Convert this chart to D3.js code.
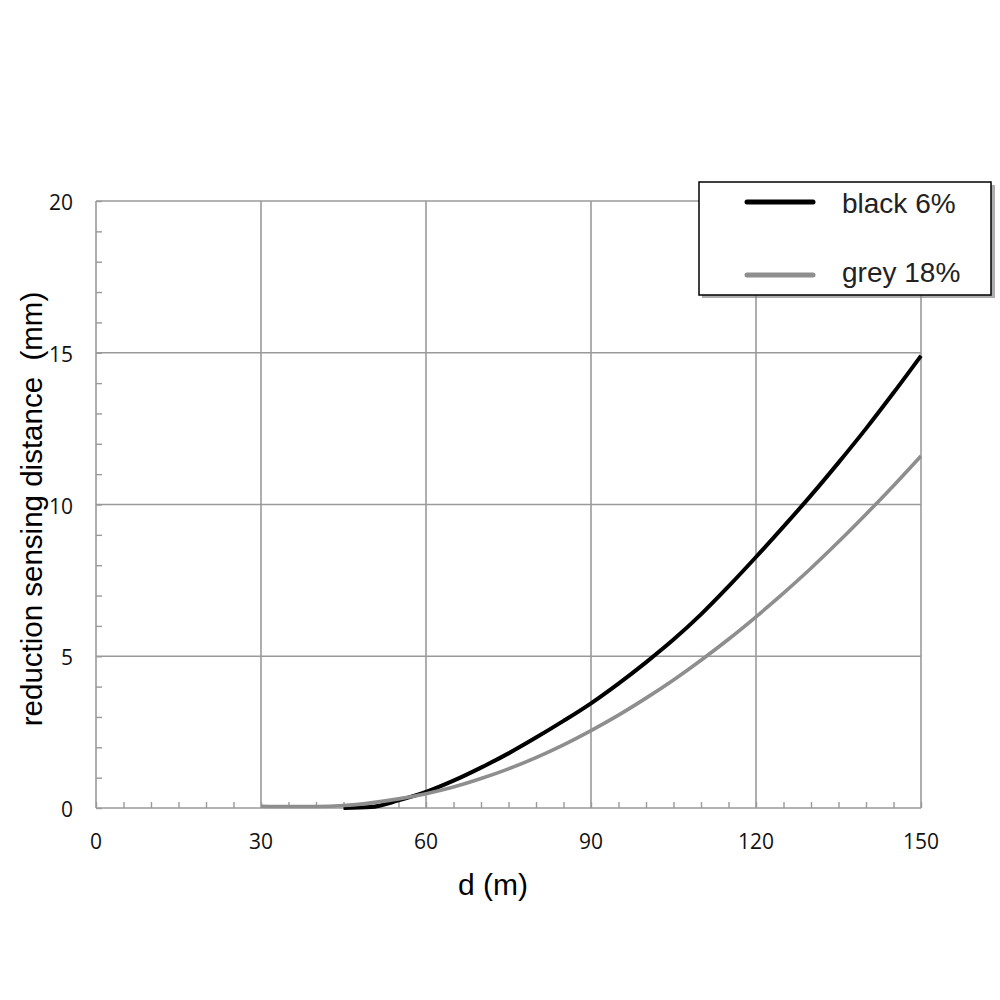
<!DOCTYPE html>
<html lang="en">
<head>
<meta charset="utf-8">
<title>reduction sensing distance</title>
<script src="https://cdn.jsdelivr.net/npm/d3@7"></script>
<style>
  body { margin: 0; background: #fff; }
  svg { display: block; }
</style>
</head>
<body>
<script>
// values (null = no curve drawn there)
var distances = [30, 35, 40, 45, 50, 55, 60, 65, 70, 75, 80, 85, 90, 95, 100, 105, 110, 115, 120, 125, 130, 135, 140, 145, 150];
var black6 = [null, null, null, 0, 0.03, 0.25, 0.53, 0.9, 1.33, 1.8, 2.32, 2.87, 3.45, 4.1, 4.8, 5.55, 6.38, 7.3, 8.27, 9.27, 10.3, 11.38, 12.5, 13.68, 14.9];
var grey18 = [0.06, 0.05, 0.05, 0.08, 0.17, 0.3, 0.47, 0.69, 0.97, 1.29, 1.66, 2.08, 2.55, 3.06, 3.62, 4.22, 4.87, 5.56, 6.3, 7.08, 7.9, 8.77, 9.68, 10.62, 11.6];
var xTicks = [0, 30, 60, 90, 120, 150];
var yTicks = [0, 5, 10, 15, 20];
var legendLabels = ["black 6%", "grey 18%"];
var seriesColors = ["#000000", "#8e8e8e"];

var w = 1000, h = 1000;
// plot edges (named so they don't clash with window.top)
var padLeft = 96, padRight = 921, padTop = 201, padBottom = 808;

var svg = d3.select("body").append("svg")
    .attr("width", w)
    .attr("height", h);

var xScale = d3.scaleLinear().domain([0, 150]).range([padLeft, padRight]);
var yScale = d3.scaleLinear().domain([0, 20]).range([padBottom, padTop]);

// grid lines at major ticks
svg.append("g").selectAll("line")
    .data(xTicks)
    .enter().append("line")
    .attr("x1", function(d) { return xScale(d); })
    .attr("x2", function(d) { return xScale(d); })
    .attr("y1", yScale(0))
    .attr("y2", yScale(20))
    .attr("stroke", "#9a9a9a")
    .attr("stroke-width", 1.6);

svg.append("g").selectAll("line")
    .data(yTicks)
    .enter().append("line")
    .attr("x1", xScale(0))
    .attr("x2", xScale(150))
    .attr("y1", function(d) { return yScale(d); })
    .attr("y2", function(d) { return yScale(d); })
    .attr("stroke", "#9a9a9a")
    .attr("stroke-width", 1.6);

// minor ticks pointing inward
var xAxis = d3.axisTop(xScale)
    .tickValues(d3.range(0, 151, 5))
    .tickSize(6)
    .tickFormat("");
var gx = svg.append("g")
    .attr("transform", "translate(0," + padBottom + ")")
    .call(xAxis);
gx.select(".domain").remove();
gx.selectAll("line").attr("stroke", "#9a9a9a").attr("stroke-width", 1.4);

var yAxis = d3.axisRight(yScale)
    .tickValues(d3.range(0, 21, 1))
    .tickSize(6)
    .tickFormat("");
var gy = svg.append("g")
    .attr("transform", "translate(" + padLeft + ",0)")
    .call(yAxis);
gy.select(".domain").remove();
gy.selectAll("line").attr("stroke", "#9a9a9a").attr("stroke-width", 1.4);

// tick labels
svg.append("g").selectAll("text")
    .data(xTicks)
    .enter().append("text")
    .attr("x", function(d) { return xScale(d); })
    .attr("y", padBottom + 41)
    .attr("text-anchor", "middle")
    .attr("font-family", "'Open Sans', 'DejaVu Sans', sans-serif")
    .attr("font-size", 21)
    .attr("fill", "#111")
    .text(function(d) { return d; });

svg.append("g").selectAll("text")
    .data(yTicks)
    .enter().append("text")
    .attr("x", 73)
    .attr("y", function(d) { return yScale(d) + 9; })
    .attr("text-anchor", "end")
    .attr("font-family", "'Open Sans', 'DejaVu Sans', sans-serif")
    .attr("font-size", 21)
    .attr("fill", "#111")
    .text(function(d) { return d; });

// axis titles
svg.append("text")
    .attr("x", 493)
    .attr("y", 895)
    .attr("text-anchor", "middle")
    .attr("font-family", "'Liberation Sans', Arial, sans-serif")
    .attr("font-size", 30)
    .attr("fill", "#000")
    .text("d (m)");

svg.append("text")
    .attr("transform", "translate(42,509) rotate(-90)")
    .attr("text-anchor", "middle")
    .attr("font-family", "'Liberation Sans', Arial, sans-serif")
    .attr("font-size", 29.5)
    .attr("fill", "#000")
    .style("white-space", "pre")
    .text("reduction sensing distance  (mm)");

// curves
var line = d3.line()
    .defined(function(d) { return d[1] != null; })
    .x(function(d) { return xScale(d[0]); })
    .y(function(d) { return yScale(d[1]); })
    .curve(d3.curveMonotoneX);

var series = [black6, grey18];
series.forEach(function(vals, i) {
    svg.append("path")
        .datum(distances.map(function(d, j) { return [d, vals[j]]; }))
        .attr("d", line)
        .attr("fill", "none")
        .attr("stroke", seriesColors[i])
        .attr("stroke-width", i == 0 ? 4 : 3.6);
});

// legend
var lg = svg.append("g");
lg.append("rect")
    .attr("x", 702).attr("y", 185)
    .attr("width", 293).attr("height", 113)
    .attr("fill", "#777")
    .attr("opacity", 0.6);
lg.append("rect")
    .attr("x", 699).attr("y", 182)
    .attr("width", 292).attr("height", 113)
    .attr("fill", "#fff")
    .attr("stroke", "#000")
    .attr("stroke-width", 1.5);

lg.selectAll("line")
    .data(legendLabels)
    .enter().append("line")
    .attr("x1", 747).attr("x2", 813)
    .attr("y1", function(d, i) { return 202 + i * 73; })
    .attr("y2", function(d, i) { return 202 + i * 73; })
    .attr("stroke", function(d, i) { return seriesColors[i]; })
    .attr("stroke-width", 5)
    .attr("stroke-linecap", "round");

lg.selectAll("text")
    .data(legendLabels)
    .enter().append("text")
    .attr("x", 842)
    .attr("y", function(d, i) { return 213 + i * 69; })
    .attr("font-family", "'Liberation Sans', Arial, sans-serif")
    .attr("font-size", 28)
    .attr("fill", "#222")
    .text(function(d) { return d; });
</script>
</body>
</html>
